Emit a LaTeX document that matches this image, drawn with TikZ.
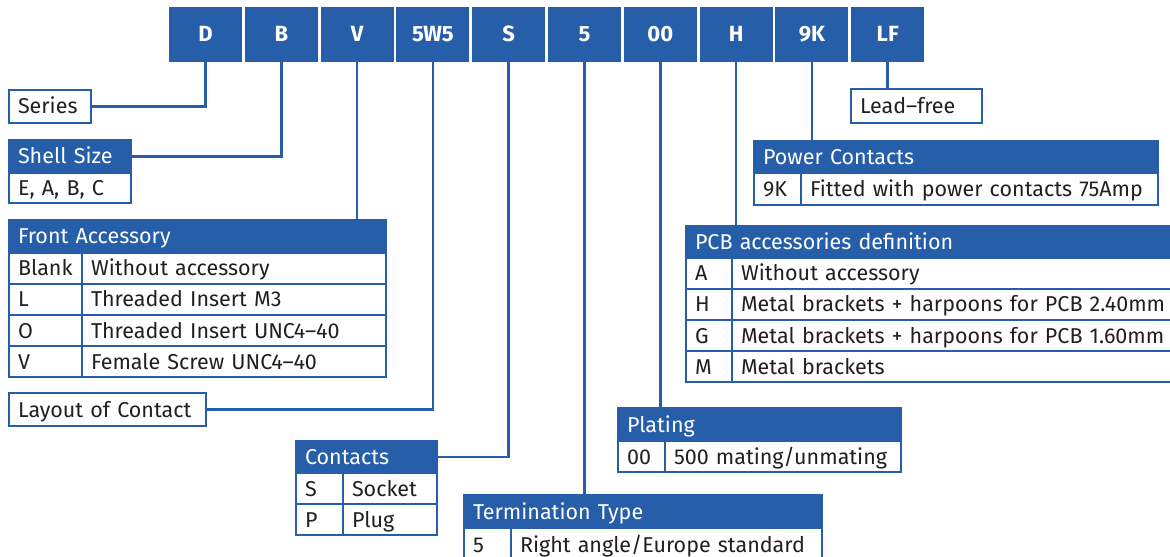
\documentclass[tikz,border=0pt]{standalone}
\usepackage{fontspec}
\setmainfont{Fira Sans}
\usepackage{xcolor}
\usepackage{tikz}
\usetikzlibrary{positioning}
\definecolor{dsblue}{HTML}{265EAA}
\definecolor{dstext}{HTML}{231F20}
\tikzstyle{link} = [draw=dsblue, line width=2.5bp]

\begin{document}
\begin{tikzpicture}[x=1bp, y=-1bp]
% Define styles for the ordering code and the option tables
\tikzstyle{code} = [rectangle, fill=dsblue, text=white, minimum width=73bp, minimum height=55bp, inner sep=0pt, outer sep=0pt, text height=15bp, text depth=0pt, font=\fontsize{22bp}{26bp}\selectfont\bfseries]
\tikzstyle{cell} = [rectangle, draw=dsblue, line width=2.5bp, fill=white, text=dstext, anchor=north west, align=left, inner sep=0pt, outer sep=0pt, minimum height=31bp, text height=19bp, text depth=4bp, font=\fontsize{21.5bp}{26bp}\selectfont, execute at begin node=\hspace*{9bp}]
\tikzstyle{head} = [cell, fill=dsblue, text=white, minimum height=33bp]

\useasboundingbox (0,0) rectangle (1170,557);

% Ordering code
\node[code] (cseries) at (205.5,34.5) {D};
\node[code, right=2.8bp of cseries] (cshell) {B};
\node[code, right=2.8bp of cshell] (cfront) {V};
\node[code, right=2.8bp of cfront] (clayout) {5W5};
\node[code, right=2.8bp of clayout] (ccontact) {S};
\node[code, right=2.8bp of ccontact] (cterm) {5};
\node[code, right=2.8bp of cterm] (cplate) {00};
\node[code, right=2.8bp of cplate] (cpcb) {H};
\node[code, right=2.8bp of cpcb] (cpower) {9K};
\node[code, right=2.8bp of cpower] (clead) {LF};

% Series and shell size
\node[cell, text width=82bp, minimum height=33bp] (series) at (9,90) {Series};
\node[head, text width=122bp] (shellhead) at (9,140) {Shell Size};
\node[cell, text width=122bp, minimum height=30bp, below right=0pt and 0pt of shellhead.south west] (shell) {E, A, B, C};

% Front accessory
\node[head, text width=377bp] (fronthead) at (9,220) {Front Accessory};
\node[cell, text width=73bp, below right=0pt and 0pt of fronthead.south west] (fronta) {Blank};
\node[cell, text width=304bp, right=0pt of fronta] (frontav) {Without accessory};
\node[cell, text width=73bp, below right=0pt and 0pt of fronta.south west] (frontb) {L};
\node[cell, text width=304bp, right=0pt of frontb] (frontbv) {Threaded Insert M3};
\node[cell, text width=73bp, below right=0pt and 0pt of frontb.south west] (frontc) {O};
\node[cell, text width=304bp, right=0pt of frontc] (frontcv) {Threaded Insert UNC4--40};
\node[cell, text width=73bp, below right=0pt and 0pt of frontc.south west] (frontd) {V};
\node[cell, text width=304bp, right=0pt of frontd] (frontdv) {Female Screw UNC4--40};

% Layout of contact
\node[cell, text width=197bp, minimum height=33bp] (layout) at (9,393) {Layout of Contact};

% Contacts
\node[head, text width=141bp, minimum height=32bp] (conhead) at (296,441) {Contacts};
\node[cell, text width=47bp, below right=0pt and 0pt of conhead.south west] (cona) {S};
\node[cell, text width=94bp, right=0pt of cona] (conav) {Socket};
\node[cell, text width=47bp, below right=0pt and 0pt of cona.south west] (conb) {P};
\node[cell, text width=94bp, right=0pt of conb] (conbv) {Plug};

% Termination type
\node[head, text width=358bp] (termhead) at (464,495) {Termination Type};
\node[cell, text width=47bp, minimum height=34bp, below right=0pt and 0pt of termhead.south west] (terma) {5};
\node[cell, text width=311bp, minimum height=34bp, right=0pt of terma] (termav) {Right angle/Europe standard};

% Plating
\node[head, text width=283bp] (platehead) at (618,408) {Plating};
\node[cell, text width=47bp, below right=0pt and 0pt of platehead.south west] (platea) {00};
\node[cell, text width=236bp, right=0pt of platea] (plateav) {500 mating/unmating};

% PCB accessories
\node[head, text width=514bp, minimum height=32bp] (pcbhead) at (686,226) {PCB accessories definition};
\node[cell, text width=46bp, below right=0pt and 0pt of pcbhead.south west] (pcba) {A};
\node[cell, text width=468bp, right=0pt of pcba] (pcbav) {Without accessory};
\node[cell, text width=46bp, below right=0pt and 0pt of pcba.south west] (pcbb) {H};
\node[cell, text width=468bp, right=0pt of pcbb] (pcbbv) {Metal brackets + harpoons for PCB 2.40mm};
\node[cell, text width=46bp, below right=0pt and 0pt of pcbb.south west] (pcbc) {G};
\node[cell, text width=468bp, right=0pt of pcbc] (pcbcv) {Metal brackets + harpoons for PCB 1.60mm};
\node[cell, text width=46bp, below right=0pt and 0pt of pcbc.south west] (pcbd) {M};
\node[cell, text width=468bp, right=0pt of pcbd] (pcbdv) {Metal brackets};

% Power contacts
\node[head, text width=404bp, minimum height=32bp] (powerhead) at (754,141) {Power Contacts};
\node[cell, text width=47bp, minimum height=32bp, below right=0pt and 0pt of powerhead.south west] (powera) {9K};
\node[cell, text width=357bp, minimum height=32bp, right=0pt of powera] (powerav) {Fitted with power contacts 75Amp};

% Lead-free
\node[cell, text width=131bp, minimum height=34bp] (leadfree) at (851,89) {Lead--free};

% Connectors
\draw[link] (cseries.south) |- (series.east);
\draw[link] (cshell.south) |- (shellhead.east);
\draw[link] (cfront.south) -- (cfront.south |- fronthead.north);
\draw[link] (clayout.south) |- (layout.east);
\draw[link] (ccontact.south) |- (conhead.east);
\draw[link] (cterm.south) -- (cterm.south |- termhead.north);
\draw[link] (cplate.south) -- (cplate.south |- platehead.north);
\draw[link] (cpcb.south) -- (cpcb.south |- pcbhead.north);
\draw[link] (cpower.south) -- (cpower.south |- powerhead.north);
\draw[link] (clead.south) -- (clead.south |- leadfree.north);
\end{tikzpicture}
\end{document}
